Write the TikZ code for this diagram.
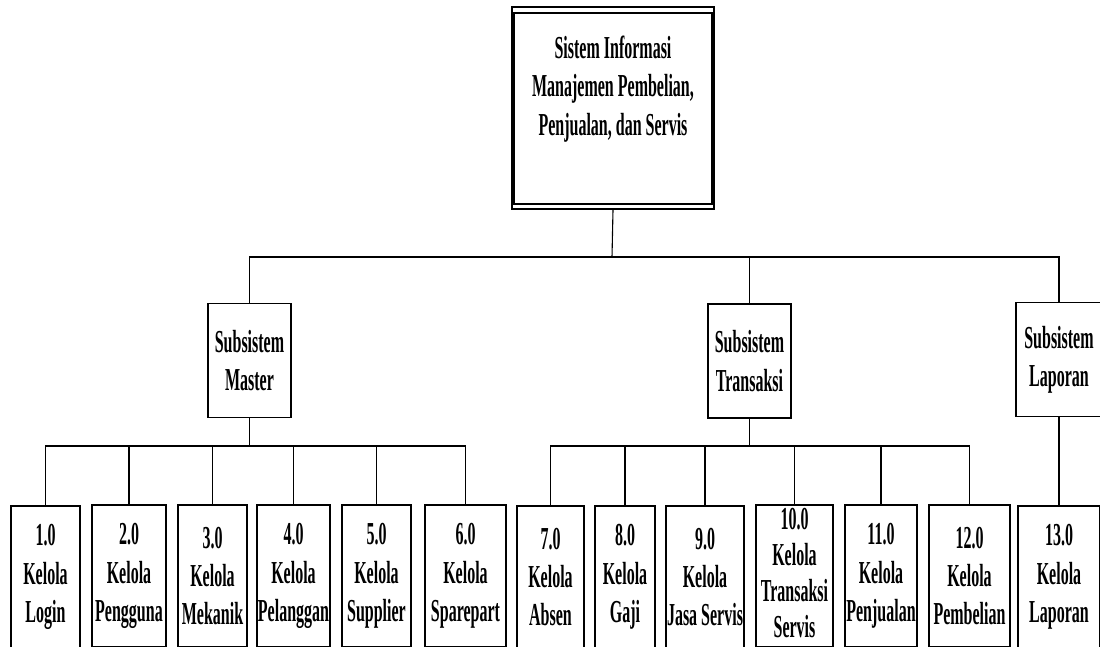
\documentclass[tikz,border=0pt]{standalone}
\usepackage{fontspec}
\setmainfont{Liberation Serif}[FakeStretch=0.5]
\begin{document}
\begin{tikzpicture}[x=1pt,y=-1pt,
  txt/.style={align=center,inner sep=0pt,font=\bfseries\fontsize{32}{38.4}\selectfont},
  box/.style={txt,draw,line width=1.3pt,anchor=center},
  sub/.style={box,minimum height=114pt},
  leaf/.style={box,minimum height=142pt},
  conn/.style={line width=1.1pt}]
\useasboundingbox (0,0) rectangle (1100,646);
\clip (0,0) rectangle (1100,646);
% root
\node[draw,line width=1.8pt,minimum width=202pt,minimum height=202pt,inner sep=0pt] (root) at (613,108) {};
\node[draw,line width=1.2pt,minimum width=198pt,minimum height=191pt,inner sep=0pt] (rootin) at (613,108.5) {};
\node[txt] (title) at (613,89) {Sistem Informasi\\Manajemen Pembelian,\\Penjualan, dan Servis};
% subsystems
\node[sub,minimum width=83pt] (master) at (249.5,360.5) {Subsistem\\Master};
\node[sub,minimum width=83pt] (transaksi) at (749.5,361) {Subsistem\\Transaksi};
\node[sub,minimum width=86pt] (laporan) at (1059,359.5) {Subsistem\\Laporan};
% leaves
\node[leaf,minimum width=69pt] (c1) at (45.5,577) {1.0\\Kelola\\Login};
\node[leaf,minimum width=74pt] (c2) at (129,576) {2.0\\Kelola\\Pengguna};
\node[leaf,minimum width=69pt] (c3) at (212.5,576) {3.0\\Kelola\\Mekanik};
\node[leaf,minimum width=73pt] (c4) at (293.5,576) {4.0\\Kelola\\Pelanggan};
\node[leaf,minimum width=69pt] (c5) at (376.5,576) {5.0\\Kelola\\Supplier};
\node[leaf,minimum width=81pt] (c6) at (465.5,576) {6.0\\Kelola\\Sparepart};
\node[leaf,minimum width=67pt] (c7) at (550.5,577) {7.0\\Kelola\\Absen};
\node[leaf,minimum width=60pt] (c8) at (625,577) {8.0\\Kelola\\Gaji};
\node[leaf,minimum width=78pt] (c9) at (705,577) {9.0\\Kelola\\Jasa Servis};
\node[leaf,minimum width=77pt] (c10) at (794.5,576) {};
\node[txt,font=\bfseries\fontsize{32}{36}\selectfont] (c10t) at (794.5,573) {10.0\\Kelola\\Transaksi\\Servis};
\node[leaf,minimum width=72pt] (c11) at (881,576) {11.0\\Kelola\\Penjualan};
\node[leaf,minimum width=81pt] (c12) at (969.5,576) {12.0\\Kelola\\Pembelian};
\node[leaf,minimum width=82pt] (c13) at (1059,577) {13.0\\Kelola\\Laporan};
% buses
\coordinate (b0) at (612,257);
\coordinate (bm) at (249.5,446);
\coordinate (bt) at (749.5,446);
\draw[conn] (root.south) -- (b0);
\draw[conn] (master.north) |- (b0);
\draw[conn] (transaksi.north) |- (b0);
\draw[conn] (laporan.north) |- (b0);
\draw[conn] (master.south) -- (bm);
\foreach \c in {c1,c2,c3,c4,c5,c6} \draw[conn] (\c.north) |- (bm);
\draw[conn] (transaksi.south) -- (bt);
\foreach \c in {c7,c8,c9,c10,c11,c12} \draw[conn] (\c.north) |- (bt);
\draw[conn] (laporan.south) -- (c13.north);
\end{tikzpicture}
\end{document}
